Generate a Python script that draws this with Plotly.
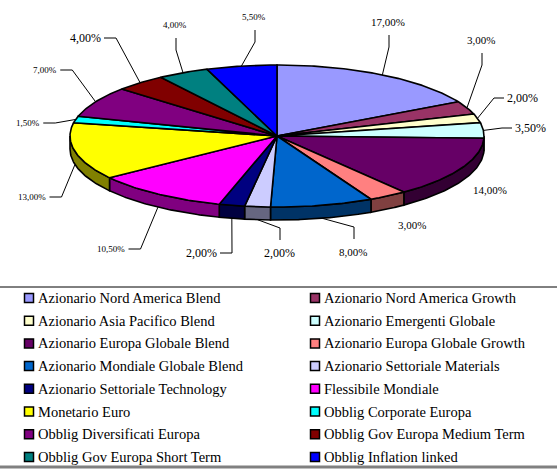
import numpy as np
import plotly.graph_objects as go

# ---------------- data ----------------
categories = [
    "Azionario Nord America Blend", "Azionario Nord America Growth",
    "Azionario Asia Pacifico Blend", "Azionario Emergenti Globale",
    "Azionario Europa Globale Blend", "Azionario Europa Globale Growth",
    "Azionario Mondiale Globale Blend", "Azionario Settoriale Materials",
    "Azionario Settoriale Technology", "Flessibile Mondiale",
    "Monetario Euro", "Obblig Corporate Europa",
    "Obblig Diversificati Europa", "Obblig Gov Europa Medium Term",
    "Obblig Gov Europa Short Term", "Obblig Inflation linked",
]
values = [17.0, 3.0, 2.0, 3.5, 14.0, 3.0, 8.0, 2.0, 2.0, 10.5, 13.0, 1.5, 7.0, 4.0, 4.0, 5.5]

# ---------------- styles ----------------
colors = ["#9999FF", "#993366", "#FFFFCC", "#CCFFFF", "#660066", "#FF8080",
          "#0066CC", "#CCCCFF", "#000080", "#FF00FF", "#FFFF00", "#00FFFF",
          "#800080", "#800000", "#008080", "#0000FF"]
side_colors = ["#4C4C80", "#4D1A33", "#808066", "#668080", "#330033", "#804040",
               "#003366", "#666680", "#000040", "#800080", "#808000", "#008080",
               "#400040", "#400000", "#004040", "#000080"]

W, H = 557, 472
CX, CY, RX, RY, DEPTH = 277, 136, 207, 71, 13

# label layout: text centre, font size, leader kind
label_xy = [(388, 22), (481, 40), (522, 98), (530, 128), (490, 190), (412, 225),
            (353, 252), (279, 253), (201, 253), (111, 249), (32, 197), (28, 123),
            (45, 70), (85, 38), (175, 25), (254, 17)]
label_size = [11, 11, 12, 12, 11, 11, 11, 12, 12, 9, 9, 9, 9, 12, 9, 9]
leader_kind = ["vu", "vu", "hr", "hr", None, None, "vd", "vd", "hl", "hl", "hl",
               "hl", "hl", "hl", "vu", "vu"]

# legend layout
LEG_X0, LEG_COLW, LEG_Y0, LEG_ROWH = 29, 286, 298, 22.7


def fmt(v):
    return ("%.2f" % v).replace(".", ",") + "%"


def pt(theta, dy=0.0):
    t = np.radians(theta)
    return CX + RX * np.sin(t), CY - RY * np.cos(t) + dy


fig = go.Figure()

total = sum(values)
bounds = np.concatenate([[0], np.cumsum(values)]) / total * 360.0

# side (rim) faces for the front half
for i, v in enumerate(values):
    a, b = max(bounds[i], 90.0), min(bounds[i + 1], 270.0)
    if a >= b:
        continue
    th = np.linspace(a, b, 60)
    xt, yt = pt(th)
    xb, yb = pt(th[::-1], DEPTH)
    fig.add_trace(go.Scatter(
        x=list(xt) + list(xb) + [xt[0]], y=list(yt) + list(yb) + [yt[0]],
        fill="toself", fillcolor=side_colors[i], mode="lines",
        line=dict(color="black", width=1.6), showlegend=False, hoverinfo="skip"))

# top faces
for i, v in enumerate(values):
    th = np.linspace(bounds[i], bounds[i + 1], max(int(v * 6), 8))
    xs, ys = pt(th)
    fig.add_trace(go.Scatter(
        x=[CX] + list(xs) + [CX], y=[CY] + list(ys) + [CY],
        fill="toself", fillcolor=colors[i], mode="lines",
        line=dict(color="black", width=1.6), showlegend=False,
        hoverinfo="text", text=f"{categories[i]}: {fmt(v)}"))

# leader lines and labels
lx, ly = [], []
for i, v in enumerate(values):
    tx, ty = label_xy[i]
    txt = fmt(v)
    fs = label_size[i]
    kind = leader_kind[i]
    mid = (bounds[i] + bounds[i + 1]) / 2
    front = 90 < mid < 270
    ex, ey = pt(mid, DEPTH if front else 0)
    w = 0.5 * fs * len(txt)
    if kind == "vu":
        pts = [(tx + 1, ty + 13), (tx + 1, ty + 25), (ex, ey)]
    elif kind == "vd":
        pts = [(tx + 1, ty - 13), (tx + 1, ty - 25), (ex, ey)]
    elif kind == "hl":
        pts = [(tx + w / 2 + 4, ty), (tx + w / 2 + 16, ty), (ex, ey)]
    elif kind == "hr":
        pts = [(tx - w / 2 - 3, ty), (tx - w / 2 - 13, ty), (ex, ey)]
    else:
        pts = []
    if pts:
        lx += [p[0] for p in pts] + [None]
        ly += [p[1] for p in pts] + [None]
    fig.add_annotation(x=tx, y=ty, text=txt, showarrow=False, xref="x", yref="y",
                       font=dict(family="Liberation Serif", size=fs, color="black"))

fig.add_trace(go.Scatter(x=lx, y=ly, mode="lines", line=dict(color="black", width=1),
                         showlegend=False, hoverinfo="skip"))

# legend (two columns, row-major)
leg_x = [LEG_X0 + (i % 2) * LEG_COLW for i in range(len(categories))]
leg_y = [LEG_Y0 + (i // 2) * LEG_ROWH for i in range(len(categories))]
fig.add_trace(go.Scatter(
    x=leg_x, y=leg_y, mode="markers", showlegend=False, hoverinfo="skip",
    marker=dict(symbol="square", size=9, color=colors,
                line=dict(color="black", width=1.5))))
for i, c in enumerate(categories):
    fig.add_annotation(x=leg_x[i] + 7, y=leg_y[i], text=c, showarrow=False,
                       xref="x", yref="y", xanchor="left", yanchor="middle",
                       font=dict(family="Liberation Serif", size=14.5, color="black"))

fig.add_shape(type="line", xref="paper", yref="y", x0=0, x1=1,
              y0=287, y1=287, line=dict(color="black", width=1))
fig.add_shape(type="line", xref="paper", yref="y", x0=0, x1=1,
              y0=467, y1=467, line=dict(color="#808080", width=3))

fig.update_layout(
    width=W, height=H,
    margin=dict(l=0, r=0, t=0, b=0),
    paper_bgcolor="white", plot_bgcolor="white",
    xaxis=dict(range=[0, W], visible=False, fixedrange=True),
    yaxis=dict(range=[H, 0], visible=False, fixedrange=True),
    showlegend=False,
)

fig.write_html("out.html", config={"displayModeBar": False},
               post_script="document.body.style.margin='0';document.body.style.overflow='hidden';")
